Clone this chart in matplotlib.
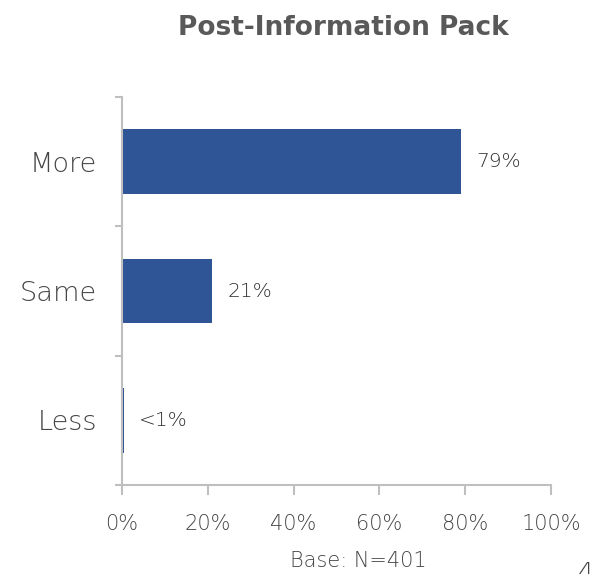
import matplotlib
matplotlib.use('Agg')
import matplotlib.pyplot as plt

# data
categories = ['More', 'Same', 'Less']
values = [79, 21, 0.4]
value_labels = ['79%', '21%', '<1%']
xticks = [0, 20, 40, 60, 80, 100]
xtick_labels = ['0%', '20%', '40%', '60%', '80%', '100%']

plt.rcParams['font.family'] = ['DejaVu Sans']
plt.rcParams['font.weight'] = 200

bar_color = '#2F5597'
axis_color = '#BFBFBF'
text_color = '#454545'

fig = plt.figure(figsize=(5.97, 5.74), dpi=100)
ax = fig.add_axes([122/597, 1-485/574, (551-122)/597, (485-97)/574])

ypos = list(range(len(categories)))
ax.barh(ypos, values, height=0.5, color=bar_color, linewidth=0)
ax.set_ylim(len(categories)-0.5, -0.5)
ax.set_xlim(0, 100)

for y, v, lab in zip(ypos, values, value_labels):
    ax.text(v + 3.6, y, lab, va='center', ha='left', fontsize=14.5, color='#303030')

ax.set_xticks(xticks)
ax.set_xticklabels(xtick_labels, fontsize=15, color=text_color)
ax.set_yticks([-0.5, 0.5, 1.5, 2.5])
ax.set_yticklabels([])
ax.set_yticks(ypos, minor=True)
ax.set_yticklabels(categories, minor=True, fontsize=19.5, color=text_color)
ax.tick_params(axis='y', which='minor', length=0, pad=18)
ax.tick_params(axis='y', which='major', length=5, color=axis_color, width=1.5)
ax.tick_params(axis='x', length=7, color=axis_color, width=1.5, pad=14)

for side in ['top', 'right']:
    ax.spines[side].set_visible(False)
for side in ['left', 'bottom']:
    ax.spines[side].set_color(axis_color)
    ax.spines[side].set_linewidth(1.5)

fig.text(343/597, 1-28/574, 'Post-Information Pack', ha='center', va='center',
         fontsize=19, fontweight='bold', color='#595959')
fig.text(358/597, 1-561/574, 'Base: N=401', ha='center', va='center', fontsize=15, color=text_color)
# page number in the corner
fig.text(586/597, 1-573/574, '4', ha='center', va='center', fontsize=18, color=text_color)

fig.savefig('out.png', dpi=100)
